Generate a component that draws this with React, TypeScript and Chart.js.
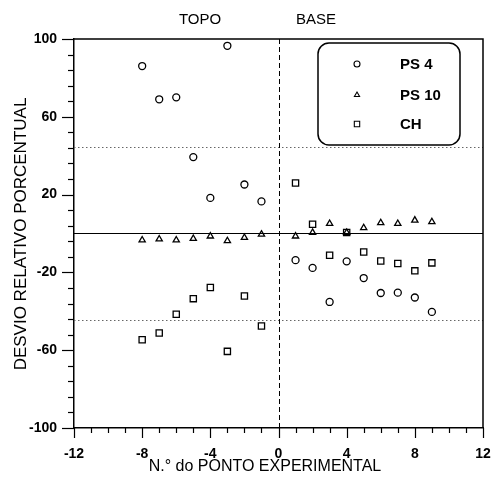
import React, { useEffect, useRef } from 'react';
import { Chart, registerables } from 'chart.js';

Chart.register(...registerables);

// ---- data ----
const X_VALUES = [-8, -7, -6, -5, -4, -3, -2, -1, 1, 2, 3, 4, 5, 6, 7, 8, 9];
const PS4 = [86.1, 69.0, 70.0, 39.3, 18.3, 96.5, 25.2, 16.5, -13.7, -17.7, -35.2, -14.3, -22.9, -30.6, -30.4, -32.9, -40.3];
const PS10 = [-3.4, -2.9, -3.4, -2.6, -1.4, -3.8, -2.1, -0.4, -1.4, 0.5, 5.1, 0.5, 2.9, 5.5, 5.1, 6.8, 6.0];
const CH = [-54.6, -51.2, -41.5, -33.5, -27.8, -60.6, -32.1, -47.6, 26.0, 4.8, -11.2, 0.5, -9.5, -14.1, -15.4, -19.2, -15.1];

const SERIES_NAMES = ['PS 4', 'PS 10', 'CH'];
const X_TICKS = [-12, -8, -4, 0, 4, 8, 12];
const Y_TICKS = [-100, -60, -20, 20, 60, 100];
const X_MINOR_STEP = 1;
const Y_MINOR_STEP = 8;
const BAND_LINES = [44.5, -44.5];
const REGION_LABELS = ['TOPO', 'BASE'];
const X_TITLE = 'N.° do PONTO EXPERIMENTAL';
const Y_TITLE = 'DESVIO RELATIVO PORCENTUAL';

const FONT = '"Liberation Sans", Arial, Helvetica, sans-serif';

function drawMarker(ctx: CanvasRenderingContext2D, style: string, x: number, y: number, r: number) {
  ctx.beginPath();
  if (style === 'circle') {
    ctx.arc(x, y, r, 0, Math.PI * 2);
  } else if (style === 'triangle') {
    let rad = 0;
    ctx.moveTo(x + Math.sin(rad) * r, y - Math.cos(rad) * r);
    rad += (2 * Math.PI) / 3;
    ctx.lineTo(x + Math.sin(rad) * r, y - Math.cos(rad) * r);
    rad += (2 * Math.PI) / 3;
    ctx.lineTo(x + Math.sin(rad) * r, y - Math.cos(rad) * r);
    ctx.closePath();
  } else {
    const s = Math.SQRT1_2 * r;
    ctx.rect(x - s, y - s, 2 * s, 2 * s);
  }
  ctx.stroke();
}

const overlayPlugin = {
  id: 'overlay',
  beforeDatasetsDraw(chart: any) {
    const { ctx, chartArea: a, scales } = chart;
    const x = scales.x;
    const y = scales.y;
    ctx.save();
    // dotted band lines
    ctx.strokeStyle = '#666';
    ctx.lineWidth = 1;
    ctx.setLineDash([1.5, 2.5]);
    for (const v of BAND_LINES) {
      const py = Math.round(y.getPixelForValue(v)) + 0.5;
      ctx.beginPath();
      ctx.moveTo(a.left, py);
      ctx.lineTo(a.right, py);
      ctx.stroke();
    }
    // zero line
    ctx.setLineDash([]);
    ctx.strokeStyle = '#000';
    ctx.lineWidth = 1.2;
    const py0 = y.getPixelForValue(0);
    ctx.beginPath();
    ctx.moveTo(a.left, py0);
    ctx.lineTo(a.right, py0);
    ctx.stroke();
    // dashed vertical at x=0
    ctx.setLineDash([5, 3]);
    ctx.lineWidth = 1;
    const px0 = Math.round(x.getPixelForValue(0)) + 0.5;
    ctx.beginPath();
    ctx.moveTo(px0, a.top);
    ctx.lineTo(px0, a.bottom);
    ctx.stroke();
    ctx.restore();
  },
  afterDraw(chart: any) {
    const { ctx, chartArea: a, scales } = chart;
    const x = scales.x;
    const y = scales.y;
    ctx.save();
    ctx.strokeStyle = '#000';
    ctx.fillStyle = '#000';
    // frame top & right
    ctx.lineWidth = 1.5;
    ctx.beginPath();
    ctx.moveTo(a.left, a.top);
    ctx.lineTo(a.right, a.top);
    ctx.lineTo(a.right, a.bottom);
    ctx.stroke();
    // x ticks (outward)
    ctx.lineWidth = 1.2;
    for (let v = x.min; v <= x.max + 1e-9; v += X_MINOR_STEP) {
      const px = Math.round(x.getPixelForValue(v)) + 0.5;
      const major = X_TICKS.includes(v);
      ctx.beginPath();
      ctx.moveTo(px, a.bottom);
      ctx.lineTo(px, a.bottom + (major ? 10 : 5));
      ctx.stroke();
    }
    // y ticks (outward)
    for (let v = y.min; v <= y.max + 1e-9; v += Y_MINOR_STEP) {
      const py = Math.round(y.getPixelForValue(v)) + 0.5;
      const major = Y_TICKS.includes(v);
      ctx.beginPath();
      ctx.moveTo(a.left, py);
      ctx.lineTo(a.left - (major ? 12 : 6), py);
      ctx.stroke();
    }
    // region labels
    ctx.font = `15px ${FONT}`;
    ctx.textAlign = 'center';
    ctx.textBaseline = 'middle';
    ctx.fillText(REGION_LABELS[0], 200, 20);
    ctx.fillText(REGION_LABELS[1], 316, 20);
    // axis titles
    ctx.font = `16px ${FONT}`;
    ctx.fillText(X_TITLE, 265, 467);
    ctx.save();
    ctx.translate(21, 234);
    ctx.rotate(-Math.PI / 2);
    ctx.font = `17px ${FONT}`;
    ctx.fillText(Y_TITLE, 0, 0);
    ctx.restore();
    // legend box
    const bx = 318, by = 43, bw = 142, bh = 102, br = 11;
    ctx.lineWidth = 1.5;
    ctx.beginPath();
    ctx.moveTo(bx + br, by);
    ctx.lineTo(bx + bw - br, by);
    ctx.arcTo(bx + bw, by, bx + bw, by + br, br);
    ctx.lineTo(bx + bw, by + bh - br);
    ctx.arcTo(bx + bw, by + bh, bx + bw - br, by + bh, br);
    ctx.lineTo(bx + br, by + bh);
    ctx.arcTo(bx, by + bh, bx, by + bh - br, br);
    ctx.lineTo(bx, by + br);
    ctx.arcTo(bx, by, bx + br, by, br);
    ctx.closePath();
    ctx.stroke();
    const styles = ['circle', 'triangle', 'rect'];
    const rows = [64, 95, 124];
    ctx.font = `bold 15px ${FONT}`;
    ctx.textAlign = 'left';
    for (let i = 0; i < 3; i++) {
      ctx.lineWidth = 1.1;
      drawMarker(ctx, styles[i], 357, rows[i], styles[i] === 'rect' ? 3.8 : 3);
      ctx.fillText(SERIES_NAMES[i], 400, rows[i] + 1);
    }
    ctx.restore();
  },
};

export default function App() {
  const ref = useRef<HTMLCanvasElement | null>(null);
  useEffect(() => {
    if (!ref.current) return;
    const mk = (vals: number[]) => X_VALUES.map((xv, i) => ({ x: xv, y: vals[i] }));
    const common = {
      borderColor: '#000',
      backgroundColor: 'rgba(0,0,0,0)',
      borderWidth: 1.3,
      showLine: false,
    };
    const chart = new Chart(ref.current, {
      type: 'scatter',
      data: {
        datasets: [
          { ...common, label: SERIES_NAMES[0], data: mk(PS4), pointStyle: 'circle', pointRadius: 3.5 },
          { ...common, label: SERIES_NAMES[1], data: mk(PS10), pointStyle: 'triangle', pointRadius: 3.6 },
          { ...common, label: SERIES_NAMES[2], data: mk(CH), pointStyle: 'rect', pointRadius: 4.4 },
        ],
      },
      options: {
        animation: false,
        responsive: false,
        layout: { padding: { top: 39, right: 9, left: 0, bottom: 0 } },
        plugins: { legend: { display: false }, tooltip: { enabled: false } },
        scales: {
          x: {
            type: 'linear',
            min: -12,
            max: 12,
            afterBuildTicks: (s: any) => {
              s.ticks = X_TICKS.map((v) => ({ value: v }));
            },
            afterFit: (s: any) => {
              s.height = 49;
            },
            grid: {
              display: true,
              drawOnChartArea: false,
              drawTicks: true,
              tickLength: 18,
              color: 'rgba(0,0,0,0)',
            },
            border: { display: true, color: '#000', width: 1.5 },
            ticks: {
              color: '#000',
              font: { family: FONT, size: 14, weight: 'bold' },
              padding: 0,
              maxRotation: 0,
              autoSkip: false,
            },
          },
          y: {
            type: 'linear',
            min: -100,
            max: 100,
            afterBuildTicks: (s: any) => {
              s.ticks = Y_TICKS.map((v) => ({ value: v }));
            },
            afterFit: (s: any) => {
              s.width = 74;
            },
            grid: { display: false, drawTicks: false },
            border: { display: true, color: '#000', width: 1.5 },
            ticks: {
              color: '#000',
              font: { family: FONT, size: 14, weight: 'bold' },
              padding: 17,
              autoSkip: false,
            },
          },
        },
      } as any,
      plugins: [overlayPlugin],
    });
    return () => chart.destroy();
  }, []);
  return (
    <div style={{ position: 'absolute', left: 0, top: 0, width: 492, height: 477, background: '#fff' }}>
      <canvas ref={ref} width={492} height={477} style={{ display: 'block' }} />
    </div>
  );
}
